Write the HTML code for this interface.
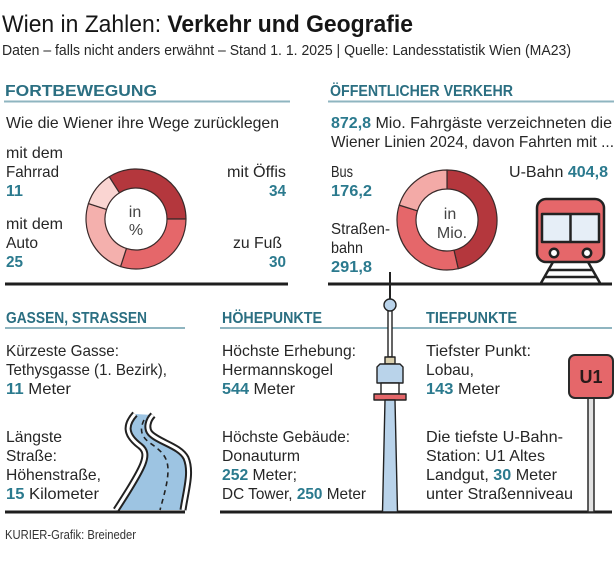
<!DOCTYPE html>
<html><head><meta charset="utf-8"><style>
html,body{margin:0;padding:0;background:#fff;}
svg{display:block;}
text{font-family:"Liberation Sans",sans-serif;fill:#262626;}
.b{font-size:16px;}
.h{font-size:16px;font-weight:bold;fill:#2b6f82;}
.n{font-weight:bold;fill:#2b7a8e;}
</style></head><body>
<svg width="616" height="563" viewBox="0 0 616 563" xmlns="http://www.w3.org/2000/svg">
<rect width="616" height="563" fill="#fff"/>
<!-- Title -->
<text x="2" y="32" font-size="24" textLength="411" lengthAdjust="spacingAndGlyphs" style="fill:#161616">Wien in Zahlen: <tspan font-weight="bold">Verkehr und Geografie</tspan></text>
<text x="2" y="55" font-size="14.5" textLength="569" lengthAdjust="spacingAndGlyphs">Daten – falls nicht anders erwähnt – Stand 1. 1. 2025 | Quelle: Landesstatistik Wien (MA23)</text>

<!-- Headers top -->
<text class="h" x="5" y="96" textLength="152" lengthAdjust="spacingAndGlyphs">FORTBEWEGUNG</text>
<text class="h" x="330" y="96" textLength="183" lengthAdjust="spacingAndGlyphs">ÖFFENTLICHER VERKEHR</text>
<line x1="4" y1="101.5" x2="290" y2="101.5" stroke="#8fb5c0" stroke-width="2"/>
<line x1="328" y1="101.5" x2="614" y2="101.5" stroke="#8fb5c0" stroke-width="2"/>

<!-- Left top -->
<text class="b" x="6" y="128" textLength="273" lengthAdjust="spacingAndGlyphs">Wie die Wiener ihre Wege zurücklegen</text>
<text class="b" x="6" y="158" textLength="57" lengthAdjust="spacingAndGlyphs">mit dem</text>
<text class="b" x="6" y="177" textLength="53" lengthAdjust="spacingAndGlyphs">Fahrrad</text>
<text class="b n" x="6" y="196" textLength="17" lengthAdjust="spacingAndGlyphs">11</text>
<text class="b" x="6" y="229" textLength="57" lengthAdjust="spacingAndGlyphs">mit dem</text>
<text class="b" x="6" y="248" textLength="32" lengthAdjust="spacingAndGlyphs">Auto</text>
<text class="b n" x="6" y="267" textLength="17" lengthAdjust="spacingAndGlyphs">25</text>
<text class="b" x="227" y="177" textLength="59" lengthAdjust="spacingAndGlyphs">mit Öffis</text>
<text class="b n" x="269" y="196" textLength="17" lengthAdjust="spacingAndGlyphs">34</text>
<text class="b" x="233" y="248" textLength="49" lengthAdjust="spacingAndGlyphs">zu Fuß</text>
<text class="b n" x="269" y="267" textLength="17" lengthAdjust="spacingAndGlyphs">30</text>

<!-- Left donut -->
<g stroke="#3a2a2a" stroke-width="1.2" stroke-linejoin="round">
<path d="M 109.21 176.78 A 50 50 0 0 1 186 219 L 167 219 A 31 31 0 0 0 119.39 192.83 Z" fill="#b4373d"/>
<path d="M 186 219 A 50 50 0 0 1 120.55 266.55 L 126.42 248.48 A 31 31 0 0 0 167 219 Z" fill="#e5676a"/>
<path d="M 120.55 266.55 A 50 50 0 0 1 88.45 203.55 L 106.52 209.42 A 31 31 0 0 0 126.42 248.48 Z" fill="#f4b0ad"/>
<path d="M 88.45 203.55 A 50 50 0 0 1 109.21 176.78 L 119.39 192.83 A 31 31 0 0 0 106.52 209.42 Z" fill="#fad5d2"/>
</g>
<text class="b" x="135" y="217" text-anchor="middle" style="fill:#444">in</text>
<text class="b" x="136" y="235" text-anchor="middle" style="fill:#444">%</text>
<line x1="5" y1="284" x2="288" y2="284" stroke="#1e1e1e" stroke-width="3"/>

<!-- Right top -->
<text class="b" x="331" y="128" textLength="281" lengthAdjust="spacingAndGlyphs"><tspan class="n">872,8</tspan> Mio. Fahrgäste verzeichneten die</text>
<text class="b" x="331" y="147" textLength="283" lengthAdjust="spacingAndGlyphs">Wiener Linien 2024, davon Fahrten mit ...</text>
<text class="b" x="331" y="177" textLength="22" lengthAdjust="spacingAndGlyphs">Bus</text>
<text class="b n" x="331" y="196" textLength="41" lengthAdjust="spacingAndGlyphs">176,2</text>
<text class="b" x="331" y="234" textLength="59" lengthAdjust="spacingAndGlyphs">Straßen-</text>
<text class="b" x="331" y="253" textLength="32" lengthAdjust="spacingAndGlyphs">bahn</text>
<text class="b n" x="331" y="272" textLength="41" lengthAdjust="spacingAndGlyphs">291,8</text>
<text class="b" x="509" y="177" textLength="99" lengthAdjust="spacingAndGlyphs">U-Bahn <tspan class="n">404,8</tspan></text>

<!-- Right donut -->
<g stroke="#3a2a2a" stroke-width="1.2" stroke-linejoin="round">
<path d="M 447 170 A 50 50 0 0 1 458.25 268.72 L 453.97 250.21 A 31 31 0 0 0 447 189 Z" fill="#b4373d"/>
<path d="M 458.25 268.72 A 50 50 0 0 1 399.26 205.13 L 417.40 210.78 A 31 31 0 0 0 453.97 250.21 Z" fill="#e5676a"/>
<path d="M 399.26 205.13 A 50 50 0 0 1 447 170 L 447 189 A 31 31 0 0 0 417.40 210.78 Z" fill="#f3aaa7"/>
</g>
<text class="b" x="450" y="219" text-anchor="middle" style="fill:#444">in</text>
<text class="b" x="452" y="238" text-anchor="middle" style="fill:#444">Mio.</text>

<!-- Train -->
<g stroke="#222" stroke-width="2.5" stroke-linejoin="round">
<line x1="553" y1="262" x2="541" y2="283"/>
<line x1="588" y1="262" x2="600" y2="283"/>
<line x1="548" y1="270" x2="593" y2="270"/>
<line x1="544" y1="277" x2="597" y2="277"/>
<rect x="537" y="199" width="67" height="63" rx="9" fill="#e5676a"/>
<rect x="542" y="214" width="57" height="28" fill="#e6eef7"/>
<line x1="570.5" y1="214" x2="570.5" y2="242"/>
<circle cx="554" cy="253" r="4.2" fill="#fff"/>
<circle cx="587" cy="253" r="4.2" fill="#fff"/>
</g>
<line x1="328" y1="284" x2="612" y2="284" stroke="#1e1e1e" stroke-width="3"/>

<!-- Bottom headers -->
<text class="h" x="6" y="323" textLength="141" lengthAdjust="spacingAndGlyphs">GASSEN, STRASSEN</text>
<text class="h" x="222" y="323" textLength="100" lengthAdjust="spacingAndGlyphs">HÖHEPUNKTE</text>
<text class="h" x="426" y="323" textLength="91" lengthAdjust="spacingAndGlyphs">TIEFPUNKTE</text>
<line x1="5" y1="328" x2="185" y2="328" stroke="#8fb5c0" stroke-width="2"/>
<line x1="220" y1="328" x2="612" y2="328" stroke="#8fb5c0" stroke-width="2"/>

<!-- Left bottom text -->
<text class="b" x="6" y="356" textLength="113" lengthAdjust="spacingAndGlyphs">Kürzeste Gasse:</text>
<text class="b" x="6" y="375" textLength="161" lengthAdjust="spacingAndGlyphs">Tethysgasse (1. Bezirk),</text>
<text class="b" x="6" y="394" textLength="65" lengthAdjust="spacingAndGlyphs"><tspan class="n">11</tspan> Meter</text>
<text class="b" x="6" y="442" textLength="56" lengthAdjust="spacingAndGlyphs">Längste</text>
<text class="b" x="6" y="461" textLength="51" lengthAdjust="spacingAndGlyphs">Straße:</text>
<text class="b" x="6" y="480" textLength="95" lengthAdjust="spacingAndGlyphs">Höhenstraße,</text>
<text class="b" x="6" y="499" textLength="93" lengthAdjust="spacingAndGlyphs"><tspan class="n">15</tspan> Kilometer</text>

<!-- Road -->
<path d="M 135 414 C 126 424, 124 434, 140 446 C 150 454, 146 464, 116 510 L 183 510 C 186 490, 192 472, 186 458 C 180 446, 158 442, 150 433 C 146 428, 148 420, 153 415 Z" fill="#9dc4e2"/>
<g fill="none" stroke-linecap="butt" stroke-linejoin="round">
<path d="M 135 414 C 126 424, 124 434, 140 446 C 150 454, 146 464, 116 510" stroke="#222" stroke-width="7"/>
<path d="M 135 414 C 126 424, 124 434, 140 446 C 150 454, 146 464, 116 510" stroke="#fff" stroke-width="3"/>
<path d="M 153 415 C 148 420, 146 428, 150 433 C 158 442, 180 446, 186 458 C 192 472, 186 490, 183 510" stroke="#222" stroke-width="7"/>
<path d="M 153 415 C 148 420, 146 428, 150 433 C 158 442, 180 446, 186 458 C 192 472, 186 490, 183 510" stroke="#fff" stroke-width="3"/>
<path d="M 144 420 C 140 428, 140 436, 150 443 C 160 450, 168 456, 168 470 C 168 482, 164 495, 160 510" stroke="#222" stroke-width="1.6" stroke-dasharray="5 4"/>
</g>

<!-- Middle bottom text -->
<text class="b" x="222" y="356" textLength="134" lengthAdjust="spacingAndGlyphs">Höchste Erhebung:</text>
<text class="b" x="222" y="375" textLength="111" lengthAdjust="spacingAndGlyphs">Hermannskogel</text>
<text class="b" x="222" y="394" textLength="73" lengthAdjust="spacingAndGlyphs"><tspan class="n">544</tspan> Meter</text>
<text class="b" x="222" y="442" textLength="128" lengthAdjust="spacingAndGlyphs">Höchste Gebäude:</text>
<text class="b" x="222" y="461" textLength="78" lengthAdjust="spacingAndGlyphs">Donauturm</text>
<text class="b" x="222" y="480" textLength="75" lengthAdjust="spacingAndGlyphs"><tspan class="n">252</tspan> Meter;</text>
<text class="b" x="222" y="499" textLength="144" lengthAdjust="spacingAndGlyphs">DC Tower, <tspan class="n">250</tspan> Meter</text>

<!-- Right bottom text -->
<text class="b" x="426" y="356" textLength="105" lengthAdjust="spacingAndGlyphs">Tiefster Punkt:</text>
<text class="b" x="426" y="375" textLength="48" lengthAdjust="spacingAndGlyphs">Lobau,</text>
<text class="b" x="426" y="394" textLength="74" lengthAdjust="spacingAndGlyphs"><tspan class="n">143</tspan> Meter</text>
<text class="b" x="426" y="442" textLength="137" lengthAdjust="spacingAndGlyphs">Die tiefste U-Bahn-</text>
<text class="b" x="426" y="461" textLength="119" lengthAdjust="spacingAndGlyphs">Station: U1 Altes</text>
<text class="b" x="426" y="480" textLength="131" lengthAdjust="spacingAndGlyphs">Landgut, <tspan class="n">30</tspan> Meter</text>
<text class="b" x="426" y="499" textLength="147" lengthAdjust="spacingAndGlyphs">unter Straßenniveau</text>

<!-- Bottom lines -->
<line x1="5" y1="512" x2="185" y2="512" stroke="#1e1e1e" stroke-width="3"/>
<line x1="220" y1="512" x2="612" y2="512" stroke="#1e1e1e" stroke-width="3"/>

<!-- Donauturm -->
<g stroke="#222" stroke-width="1.4" stroke-linejoin="round">
<line x1="390" y1="272" x2="390" y2="300" stroke-width="2"/>
<rect x="388" y="310" width="4" height="47" fill="#fff"/>
<circle cx="390" cy="305" r="6" fill="#b9d3ea"/>
<rect x="385" y="357" width="10" height="7" fill="#d9cfae"/>
<path d="M 380 364 L 400 364 L 403 367 L 403 383 L 377 383 L 377 367 Z" fill="#b9d3ea"/>
<rect x="381" y="383" width="18" height="11" fill="#fff"/>
<rect x="374" y="394" width="32" height="6" fill="#e5676a"/>
<path d="M 385 400 L 395 400 L 397.5 512 L 382.5 512 Z" fill="#b9d3ea"/>
</g>

<!-- U1 sign -->
<g stroke="#2a2a2a" stroke-width="2">
<rect x="588" y="398" width="6" height="114" fill="#e2e2e2" stroke-width="1.5"/>
<rect x="569" y="355" width="44" height="43" rx="6" fill="#e5676a"/>
</g>
<text x="591" y="383" text-anchor="middle" font-size="18" font-weight="bold" style="fill:#2a1a1a">U1</text>

<!-- Footer -->
<text x="5" y="539" font-size="12.5" textLength="131" lengthAdjust="spacingAndGlyphs" style="fill:#333">KURIER-Grafik: Breineder</text>
</svg>
</body></html>
